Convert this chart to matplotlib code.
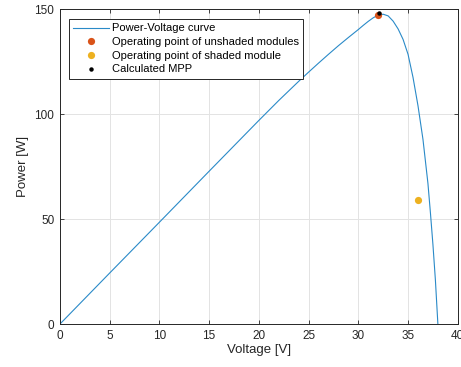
import matplotlib
matplotlib.use("Agg")
import matplotlib.pyplot as plt
import numpy as np

plt.rcParams.update({
    "font.family": ["Liberation Sans", "DejaVu Sans"],
    "axes.edgecolor": "#262626",
    "xtick.color": "#262626",
    "ytick.color": "#262626",
})

# Power-Voltage curve
voltage = [0, 5, 10, 15, 20, 22, 24, 25, 26, 27, 28, 29, 30, 30.5, 31, 31.5, 32, 32.5,
           33, 33.5, 34, 34.5, 35, 35.5, 36, 36.5, 37, 37.25, 37.5, 37.75, 38]
power = [0, 24.3, 48.5, 72.8, 97, 106.5, 115.6, 120, 124.3, 128.5, 132.6, 136.5, 140.3, 142.3, 144.2, 145.9, 147.2, 147.6,
         146.8, 144.3, 140.6, 135.6, 128.5, 117.5, 104, 88, 67, 53, 38, 21, 0]

# operating points
unshaded_v, unshaded_p = [32.0], [147.1]
shaded_v, shaded_p = [36.05], [59.0]
mpp_v, mpp_p = [32.1], [148.2]

xticks = np.arange(0, 45, 5)
yticks = [0, 50, 100, 150]

fig = plt.figure(figsize=(4.61, 3.67), dpi=100)
ax = fig.add_axes([0.130, 0.117, 0.863, 0.858])

ax.plot(voltage, power, color="#2a8ac8", lw=0.8, label="Power-Voltage curve")
ax.plot(unshaded_v, unshaded_p, "o", color="#D95319", ms=5.2, mew=0,
        label="Operating point of unshaded modules")
ax.plot(shaded_v, shaded_p, "o", color="#EDB120", ms=5.2, mew=0,
        label="Operating point of shaded module")
ax.plot(mpp_v, mpp_p, "o", color="black", ms=3.2, mew=0, label="Calculated MPP")

ax.set_xlim(0, 40)
ax.set_ylim(0, 150)
ax.set_xticks(xticks)
ax.set_yticks(yticks)
ax.grid(True, color="#e3e3e3", lw=0.7)
ax.set_axisbelow(True)
ax.tick_params(direction="in", length=3, width=0.6, top=True, right=True, labelsize=8.5, pad=4)
for s in ax.spines.values():
    s.set_linewidth(0.7)

ax.set_xlabel("Voltage [V]", fontsize=9.5, color="#262626", labelpad=2)
ax.set_ylabel("Power [W]", fontsize=9.5, color="#262626", labelpad=4)

leg = ax.legend(loc="upper left", bbox_to_anchor=(69 / 461, 1 - 19 / 367),
                bbox_transform=fig.transFigure, fontsize=8, frameon=True, fancybox=False,
                edgecolor="#262626", framealpha=1, handlelength=3.2, handletextpad=0.25,
                labelspacing=0.33, borderpad=0.4, borderaxespad=0)
leg.get_frame().set_linewidth(0.7)

fig.savefig("out.png", dpi=100)
